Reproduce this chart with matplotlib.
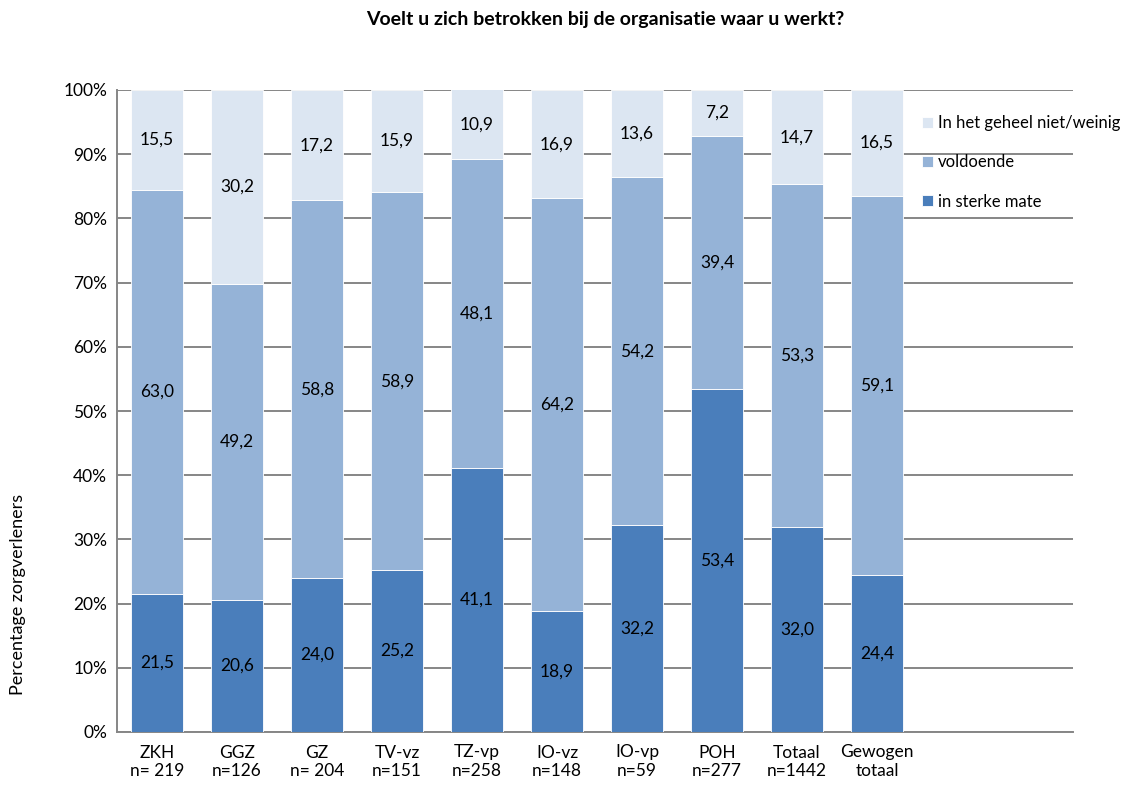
import matplotlib
matplotlib.use("Agg")
import matplotlib.pyplot as plt
import numpy as np

# data
categories = ["ZKH\nn= 219", "GGZ\nn=126", "GZ\nn= 204", "TV-vz\nn=151", "TZ-vp\nn=258",
              "IO-vz\nn=148", "IO-vp\nn=59", "POH\nn=277", "Totaal\nn=1442", "Gewogen\ntotaal"]
sterk = [21.5, 20.6, 24.0, 25.2, 41.1, 18.9, 32.2, 53.4, 32.0, 24.4]
voldoende = [63.0, 49.2, 58.8, 58.9, 48.1, 64.2, 54.2, 39.4, 53.3, 59.1]
weinig = [15.5, 30.2, 17.2, 15.9, 10.9, 16.9, 13.6, 7.2, 14.7, 16.5]
series_names = ["in sterke mate", "voldoende", "In het geheel niet/weinig"]
yticks = [0, 10, 20, 30, 40, 50, 60, 70, 80, 90, 100]

colors = ["#4A7EBB", "#95B3D7", "#DCE6F2"]

plt.rcParams["font.family"] = ["Lato", "DejaVu Sans"]

fig = plt.figure(figsize=(11.31, 7.85), dpi=100)
ax = fig.add_axes([117 / 1131, 1 - 732 / 785, (1073 - 117) / 1131, (732 - 90) / 785])

x = np.arange(len(categories))
width = 0.65
bottom = np.zeros(len(categories))
bars = []
for vals, name, col in zip([sterk, voldoende, weinig], series_names, colors):
    vals = np.array(vals)
    b = ax.bar(x, vals, width, bottom=bottom, color=col, label=name, zorder=3,
               edgecolor="white", linewidth=0.6)
    for xi, v, b0 in zip(x, vals, bottom):
        ax.text(xi, b0 + v / 2, f"{v:.1f}".replace(".", ","), ha="center", va="center",
                fontsize=12.5, color="black", zorder=4)
    bars.append(b)
    bottom = bottom + vals

ax.set_xlim(-0.5, 11.45)
ax.set_ylim(0, 100)
ax.set_yticks(yticks)
ax.set_yticklabels([f"{t}%" for t in yticks], fontsize=12.5)
ax.set_xticks(x)
ax.set_xticklabels(categories, fontsize=12.5, linespacing=1.2)
ax.tick_params(axis="both", length=0, pad=7)
ax.tick_params(axis="x", pad=9)

ax.yaxis.grid(True, color="#868686", linewidth=1.4, zorder=1)
for side in ["top", "right"]:
    ax.spines[side].set_visible(False)
for side in ["left", "bottom"]:
    ax.spines[side].set_color("#868686")
    ax.spines[side].set_linewidth(1.4)

handles = bars[::-1]
ax.legend(handles, [h.get_label() for h in handles], loc="upper left",
          bbox_to_anchor=(922 / 1131, 1 - 115 / 785), bbox_transform=fig.transFigure,
          frameon=False, fontsize=12, handlelength=0.65, handleheight=0.65,
          handletextpad=0.3, labelspacing=1.4, borderaxespad=0, borderpad=0)

fig.text(605 / 1131, 1 - 20 / 785, "Voelt u zich betrokken bij de organisatie waar u werkt?",
         ha="center", va="center", fontsize=14, fontweight="bold")
fig.text(18 / 1131, 1 - 594 / 785, "Percentage zorgverleners", rotation=90,
         ha="center", va="center", fontsize=13)

fig.savefig("out.png", dpi=100)
